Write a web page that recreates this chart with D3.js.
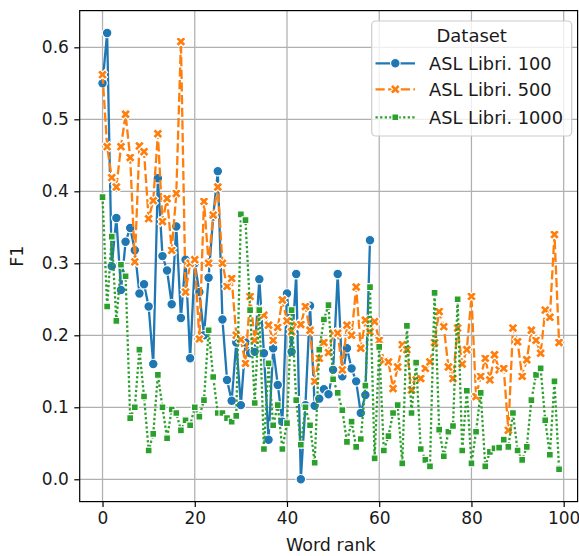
<!DOCTYPE html>
<html>
<head>
<meta charset="utf-8">
<script src="https://cdn.jsdelivr.net/npm/d3@7"></script>
<style>
  html, body { margin: 0; padding: 0; background: #fff; }
  svg { display: block; font-family: "DejaVu Sans", sans-serif; }
</style>
</head>
<body>
<svg id="chart" width="579" height="556"></svg>
<script>
// ---------------- data ----------------
const seriesNames = ["ASL Libri. 100", "ASL Libri. 500", "ASL Libri. 1000"];
const xTicks = [0, 20, 40, 60, 80, 100];
const yTicks = [0.0, 0.1, 0.2, 0.3, 0.4, 0.5, 0.6];
const xLabel = "Word rank";
const yLabel = "F1";
const legendTitle = "Dataset";

const libri100 = [0.55, 0.62, 0.296, 0.363, 0.263, 0.33, 0.349, 0.318, 0.258, 0.271,
  0.24, 0.16, 0.418, 0.31, 0.29, 0.243, 0.351, 0.224, 0.305, 0.168,
  0.30, 0.26, 0.20, 0.28, 0.365, 0.428, 0.222, 0.138, 0.109, 0.19,
  0.103, 0.19, 0.175, 0.177, 0.278, 0.175, 0.055, 0.182, 0.131, 0.08,
  0.258, 0.177, 0.285, 0.0, 0.103, 0.241, 0.102, 0.112, 0.125, 0.118,
  0.152, 0.285, 0.143, 0.182, 0.154, 0.136, 0.092, 0.117, 0.332];

const libri500 = [0.562, 0.462, 0.419, 0.406, 0.462, 0.507, 0.447, 0.302, 0.463, 0.455,
  0.362, 0.387, 0.48, 0.358, 0.39, 0.318, 0.397, 0.608, 0.26, 0.30,
  0.305, 0.195, 0.386, 0.30, 0.367, 0.406, 0.30, 0.268, 0.279, 0.20,
  0.194, 0.161, 0.254, 0.193, 0.235, 0.228, 0.214, 0.193, 0.211, 0.249,
  0.22, 0.205, 0.214, 0.215, 0.24, 0.207, 0.136, 0.168, 0.19, 0.176,
  0.203, 0.203, 0.152, 0.214, 0.20, 0.267, 0.182, 0.221, 0.205, 0.219,
  0.193, 0.165, 0.163, 0.126, 0.156, 0.187, 0.18, 0.124, 0.138, 0.14,
  0.154, 0.163, 0.19, 0.233, 0.212, 0.156, 0.14, 0.21, 0.16, 0.18,
  0.254, 0.115, 0.143, 0.168, 0.138, 0.173, 0.152, 0.154, 0.068, 0.21,
  0.191, 0.143, 0.166, 0.207, 0.193, 0.175, 0.235, 0.225, 0.34, 0.19];

const libri1000 = [0.392, 0.24, 0.337, 0.22, 0.298, 0.282, 0.085, 0.10, 0.18, 0.115,
  0.04, 0.063, 0.145, 0.10, 0.057, 0.097, 0.092, 0.068, 0.082, 0.075,
  0.10, 0.087, 0.11, 0.207, 0.142, 0.092, 0.092, 0.085, 0.08, 0.088,
  0.368, 0.36, 0.235, 0.106, 0.235, 0.042, 0.161, 0.075, 0.103, 0.042,
  0.078, 0.235, 0.11, 0.048, 0.10, 0.075, 0.023, 0.18, 0.222, 0.242,
  0.139, 0.12, 0.096, 0.052, 0.08, 0.045, 0.056, 0.13, 0.267, 0.029,
  0.184, 0.04, 0.06, 0.092, 0.103, 0.022, 0.213, 0.092, 0.162, 0.042,
  0.027, 0.018, 0.259, 0.069, 0.032, 0.066, 0.074, 0.25, 0.04, 0.123,
  0.022, 0.066, 0.12, 0.018, 0.038, 0.043, 0.044, 0.055, 0.045, 0.092,
  0.04, 0.027, 0.045, 0.11, 0.145, 0.154, 0.082, 0.034, 0.136, 0.014];

const seriesValues = [libri100, libri500, libri1000];

// ---------------- style ----------------
const colors = ["#1f77b4", "#ff7f0e", "#2ca02c"];
const lw = 2.3;
const dashes = [null, [4 * lw, 1.5 * lw].join(","), [1 * lw, 1 * lw].join(",")];
const markerSize = 9.6;
const textColor = "#1a1a1a";

const pL = 79.7, pR = 581.9, pT = 10.6, pB = 501.6;
const frameRight = 577.6;

const svg = d3.select("#chart");
const x = d3.scaleLinear().domain([-4.95, 103.95]).range([pL, pR]);
const y = d3.scaleLinear().domain([-0.031, 0.651]).range([pB, pT]);

function circlePath(s) {
  const r = s / 2;
  return `M${r},0A${r},${r} 0 1,1 ${-r},0A${r},${r} 0 1,1 ${r},0Z`;
}
function xPath(s) {
  const a = s * 0.55, w = s * 0.2;
  const pts = [[-w, -a], [w, -a], [w, -w], [a, -w], [a, w], [w, w], [w, a], [-w, a], [-w, w], [-a, w], [-a, -w], [-w, -w]];
  const c = Math.SQRT1_2;
  return "M" + pts.map(([px, py]) => [(px - py) * c, (px + py) * c].map(v => v.toFixed(2)).join(",")).join("L") + "Z";
}
function squarePath(s) {
  const h = s / Math.SQRT2 / 2;
  return `M${-h},${-h}L${h},${-h}L${h},${h}L${-h},${h}Z`;
}
function getMarker(i, s) { return i === 0 ? circlePath(s) : (i === 1 ? xPath(s) : squarePath(s)); }

// clip
svg.append("defs").append("clipPath").attr("id", "clip")
  .append("rect").attr("x", pL).attr("y", pT).attr("width", frameRight - pL).attr("height", pB - pT);

// grid
const grid = svg.append("g");
xTicks.forEach(t => grid.append("line")
  .attr("x1", x(t)).attr("x2", x(t)).attr("y1", pT).attr("y2", pB)
  .attr("stroke", "#b0b0b0").attr("stroke-width", 1.25));
yTicks.forEach(t => grid.append("line")
  .attr("x1", pL).attr("x2", frameRight).attr("y1", y(t)).attr("y2", y(t))
  .attr("stroke", "#b0b0b0").attr("stroke-width", 1.25));

// series
const plot = svg.append("g").attr("clip-path", "url(#clip)");
seriesValues.forEach((vals, i) => {
  const pts = vals.map((v, k) => [k, v]);
  const line = d3.line().x(d => x(d[0])).y(d => y(d[1]));
  const g = plot.append("g");
  const p = g.append("path").datum(pts)
    .attr("d", line).attr("fill", "none")
    .attr("stroke", colors[i]).attr("stroke-width", lw)
    .attr("stroke-linejoin", "round");
  if (dashes[i]) p.attr("stroke-dasharray", dashes[i]).attr("stroke-linecap", "butt");
  g.selectAll("path.m").data(pts).enter().append("path")
    .attr("class", "m")
    .attr("d", getMarker(i, markerSize))
    .attr("transform", d => `translate(${x(d[0])},${y(d[1])})`)
    .attr("fill", colors[i]).attr("stroke", "#fff").attr("stroke-width", 1.15);
});

// frame
svg.append("rect").attr("x", pL).attr("y", pT)
  .attr("width", frameRight - pL).attr("height", pB - pT)
  .attr("fill", "none").attr("stroke", "#000").attr("stroke-width", 1.2);

// axes
const fs = 17;
const xAxis = svg.append("g").attr("transform", `translate(0,${pB})`)
  .call(d3.axisBottom(x).tickValues(xTicks).tickFormat(d3.format("d")).tickSize(5.4).tickPadding(5.4));
const yAxis = svg.append("g").attr("transform", `translate(${pL},0)`)
  .call(d3.axisLeft(y).tickValues(yTicks).tickFormat(d3.format(".1f")).tickSize(5.4).tickPadding(5.4));
[xAxis, yAxis].forEach(a => {
  a.select(".domain").remove();
  a.selectAll(".tick line").attr("stroke", "#000").attr("stroke-width", 1.2);
  a.selectAll(".tick text").attr("font-size", fs).attr("fill", textColor)
    .attr("font-family", "DejaVu Sans, sans-serif");
});

svg.append("text").attr("x", (pL + pR) / 2).attr("y", 551)
  .attr("text-anchor", "middle").attr("font-size", 17.5).attr("fill", textColor).text(xLabel);
svg.append("text").attr("transform", `translate(23,${(pT + pB) / 2}) rotate(-90)`)
  .attr("text-anchor", "middle").attr("font-size", 17.5).attr("fill", textColor).text(yLabel);

// legend
const lg = svg.append("g");
lg.append("rect").attr("x", 371.7).attr("y", 21).attr("width", 200).attr("height", 115)
  .attr("rx", 4).attr("fill", "#fff").attr("fill-opacity", 0.8)
  .attr("stroke", "#cccccc").attr("stroke-width", 1.2);
lg.append("text").attr("x", 471.7).attr("y", 41.7).attr("text-anchor", "middle")
  .attr("font-size", 18).attr("fill", textColor).text(legendTitle);
const rowY = [63.3, 89.3, 117.3];
seriesNames.forEach((name, i) => {
  const yy = rowY[i];
  const l = lg.append("line").attr("x1", 375.5).attr("x2", 415).attr("y1", yy).attr("y2", yy)
    .attr("stroke", colors[i]).attr("stroke-width", lw);
  if (dashes[i]) l.attr("stroke-dasharray", dashes[i]);
  lg.append("path").attr("d", getMarker(i, markerSize))
    .attr("transform", `translate(395.3,${yy})`)
    .attr("fill", colors[i]).attr("stroke", "#fff").attr("stroke-width", 1.15);
  lg.append("text").attr("x", 429).attr("y", yy + 6.3)
    .attr("font-size", 17.8).attr("fill", textColor).text(name);
});
</script>
</body>
</html>
